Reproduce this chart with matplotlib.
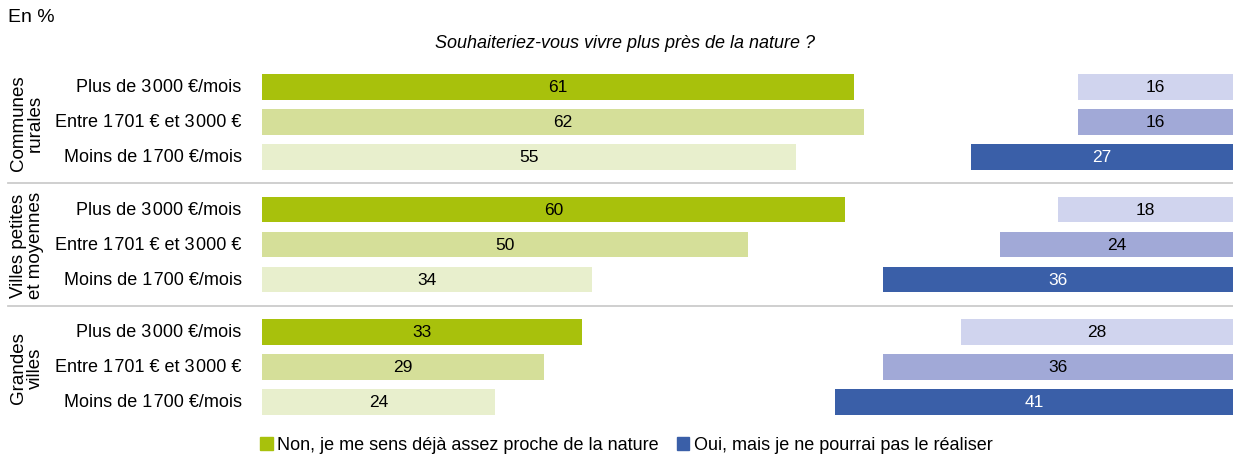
import matplotlib.pyplot as plt
from matplotlib.patches import Patch

plt.rcParams['font.family'] = ['Liberation Sans', 'DejaVu Sans']

groups = ['Communes\nrurales', 'Villes petites\net moyennes', 'Grandes\nvilles']
incomes = ['Plus de 3\u200a000 €/mois', 'Entre 1\u200a701 € et 3\u200a000 €', 'Moins de 1\u200a700 €/mois']
non_values = [61, 62, 55, 60, 50, 34, 33, 29, 24]
oui_values = [16, 16, 27, 18, 24, 36, 28, 36, 41]
legend_labels = ['Non, je me sens déjà assez proche de la nature',
                 'Oui, mais je ne pourrai pas le réaliser']

green_colors = ['#a8c10c', '#d5df99', '#e8efcd']
blue_colors = ['#d0d4ee', '#a1a9d7', '#3a5fa8']
blue_text = ['black', 'black', 'white']

fig = plt.figure(figsize=(12.33, 4.56), dpi=100)
ax = fig.add_axes([262 / 1233, 1 - 420.5 / 456, 971 / 1233, 350 / 456])

y_pos = []
for g in range(3):
    for i in range(3):
        y_pos.append(g * 3.5 + i)

for k, y in enumerate(y_pos):
    i = k % 3
    ax.barh(y, non_values[k], height=0.74, color=green_colors[i])
    ax.text(non_values[k] / 2, y, str(non_values[k]), ha='center', va='center', fontsize=12.5, color='black')
    ax.barh(y, oui_values[k], left=100 - oui_values[k], height=0.74, color=blue_colors[i])
    ax.text(100 - oui_values[k] / 2, y, str(oui_values[k]), ha='center', va='center', fontsize=12.5, color=blue_text[i])
    ax.text(-2.1, y, incomes[i], ha='right', va='center', fontsize=13, color='black')

for g in range(3):
    ax.text(-24.2, g * 3.5 + 1, groups[g], rotation=90, ha='center', va='center', fontsize=13.5,
            linespacing=1.0, multialignment='center')

for sep in [2.75, 6.25]:
    ax.axhline(sep, xmin=-0.262, xmax=1.0, color='#cccccc', lw=1.3, clip_on=False)

ax.set_xlim(0, 100)
ax.set_ylim(9.5, -0.5)
ax.axis('off')

fig.text(8 / 1233, 1 - 18 / 456, 'En %', ha='left', va='center', fontsize=14)
fig.text(625 / 1233, 1 - 44 / 456, 'Souhaiteriez-vous vivre plus près de la nature ?', ha='center', va='center',
         fontsize=13, style='italic')

handles = [Patch(color=green_colors[0], label=legend_labels[0]),
           Patch(color=blue_colors[2], label=legend_labels[1])]
fig.legend(handles=handles, loc='center left', bbox_to_anchor=(260 / 1233, 1 - 446 / 456), ncol=2, frameon=False,
           fontsize=13, handlelength=0.7, handleheight=0.7, handletextpad=0.25, columnspacing=1.0,
           borderpad=0, borderaxespad=0)

fig.savefig('out.png', dpi=100)
